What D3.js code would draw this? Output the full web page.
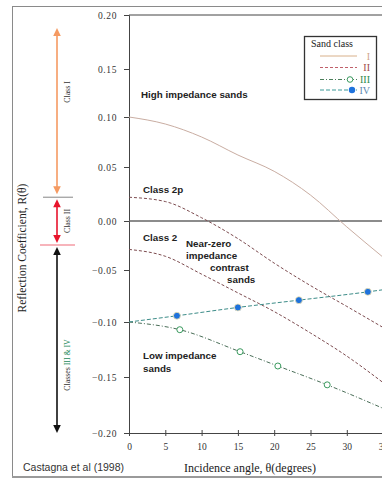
<!DOCTYPE html>
<html>
<head>
<meta charset="utf-8">
<script src="https://cdn.jsdelivr.net/npm/d3@7"></script>
<style>
html,body{margin:0;padding:0;background:#fff;}
svg{display:block;}
</style>
</head>
<body>
<svg id="chart" width="382" height="480"></svg>
<script>
// ---- data ----
const angles = [0, 5, 10, 15, 20, 25, 30, 35];
const classI = [0.100, 0.093, 0.080, 0.062, 0.046, 0.024, -0.006, -0.037];
const class2p = [0.022, 0.018, 0.003, -0.018, -0.043, -0.065, -0.085, -0.105];
const class2 = [-0.029, -0.036, -0.054, -0.072, -0.090, -0.110, -0.131, -0.155];
const classIIIAngles = [0, 7.0, 15.3, 20.5, 27.3, 35];
const classIII = [-0.100, -0.107, -0.127, -0.140, -0.157, -0.178];
const classIIIMarked = [false, true, true, true, true, false];
const classIVAngles = [0, 6.6, 15.0, 23.4, 32.9, 36];
const classIV = [-0.100, -0.094, -0.086, -0.079, -0.071, -0.068];
const classIVMarked = [false, true, true, true, true, false];
const xTicks = [0, 5, 10, 15, 20, 25, 30, 35, 40];
const yTicks = [0.20, 0.15, 0.10, 0.05, 0.00, -0.05, -0.10, -0.15, -0.20];
const legendLabels = ["I", "II", "III", "IV"];
const rangeBounds = [0.188, 0.022, -0.0245, -0.2]; // Class I top, I/II, II/III, bottom

const svg = d3.select("#chart");
const serif = "'Liberation Serif','Times New Roman',serif";
const sans = "'Liberation Sans',Arial,sans-serif";

// outer frame
svg.append("rect").attr("x", 12.5).attr("y", 6.5).attr("width", 400).attr("height", 470)
  .attr("fill", "none").attr("stroke", "#8a8a8a").attr("stroke-width", 1);
svg.append("line").attr("x1", 12).attr("x2", 382).attr("y1", 477).attr("y2", 477)
  .attr("stroke", "#9a9a9a").attr("stroke-width", 2);

const x = d3.scaleLinear().domain([0, 40]).range([129, 129 + 40 * 7.26]);
const y = d3.scaleLinear().domain(yTicks).range([15, 69, 117, 167, 221, 270, 322, 377, 433]);

// axes
const yAxis = d3.axisLeft(y).tickValues(yTicks).tickSize(5).tickFormat(d3.format(".2f"));
const gy = svg.append("g").attr("transform", "translate(129,0)").call(yAxis);
gy.select(".domain").attr("stroke", "#444");
gy.selectAll(".tick line").attr("stroke", "#444");
gy.selectAll(".tick text").attr("font-family", serif).attr("font-size", 9.5).attr("letter-spacing", 0.6)
  .attr("fill", "#333").attr("x", -12);

const xAxis = d3.axisBottom(x).tickValues(xTicks).tickSize(3).tickFormat(d3.format("d"));
const gx = svg.append("g").attr("transform", "translate(0,433)").call(xAxis);
gx.select(".domain").attr("stroke", "#444");
gx.selectAll(".tick line").attr("stroke", "#444").attr("y1", -3).attr("y2", 3);
gx.selectAll(".tick text").attr("font-family", serif).attr("font-size", 9.5).attr("fill", "#333").attr("y", 10);

// top border of plot
svg.append("line").attr("x1", x(0)).attr("x2", 382).attr("y1", y(0.2)).attr("y2", y(0.2))
  .attr("stroke", "#444").attr("stroke-width", 1);
// zero line
svg.append("line").attr("x1", x(0)).attr("x2", 382).attr("y1", y(0)).attr("y2", y(0))
  .attr("stroke", "#666").attr("stroke-width", 1.3);

svg.append("clipPath").attr("id", "plotclip").append("rect")
  .attr("x", x(0)).attr("y", y(0.2)).attr("width", 400).attr("height", y(-0.2) - y(0.2));
const plot = svg.append("g").attr("clip-path", "url(#plotclip)");

const line = d3.line().x(d => x(d[0])).y(d => y(d[1])).curve(d3.curveMonotoneX);
function zip(a, b) { return a.map((v, i) => [v, b[i]]); }

plot.append("path").datum(zip(angles, classI)).attr("d", line)
  .attr("fill", "none").attr("stroke", "#c9ada2").attr("stroke-width", 1);
plot.append("path").datum(zip(angles, class2p)).attr("d", line)
  .attr("fill", "none").attr("stroke", "#7d4c50").attr("stroke-width", 1).attr("stroke-dasharray", "3,2");
plot.append("path").datum(zip(angles, class2)).attr("d", line)
  .attr("fill", "none").attr("stroke", "#7d4c50").attr("stroke-width", 1).attr("stroke-dasharray", "3,2");
plot.append("path").datum(zip(classIIIAngles, classIII)).attr("d", line)
  .attr("fill", "none").attr("stroke", "#4a6e58").attr("stroke-width", 1).attr("stroke-dasharray", "4,2,1,2");
plot.append("path").datum(zip(classIVAngles, classIV)).attr("d", line)
  .attr("fill", "none").attr("stroke", "#3c8c88").attr("stroke-width", 1).attr("stroke-dasharray", "4,2");

plot.selectAll("circle.iii").data(zip(classIIIAngles, classIII).filter((d, i) => classIIIMarked[i]))
  .enter().append("circle").attr("class", "iii")
  .attr("cx", d => x(d[0])).attr("cy", d => y(d[1])).attr("r", 3)
  .attr("fill", "#fff").attr("stroke", "#3a9a5e").attr("stroke-width", 1);
plot.selectAll("circle.iv").data(zip(classIVAngles, classIV).filter((d, i) => classIVMarked[i]))
  .enter().append("circle").attr("class", "iv")
  .attr("cx", d => x(d[0])).attr("cy", d => y(d[1])).attr("r", 3.5)
  .attr("fill", "#1e72dc").attr("stroke", "#fbe9b0").attr("stroke-width", 0.8);

// annotations in plot
const notes = [
  ["High impedance sands", 141, 98],
  ["Class 2p", 143, 193],
  ["Class 2", 143, 241],
  ["Near-zero", 186, 247],
  ["impedance", 186, 259],
  ["contrast", 210, 271],
  ["sands", 227, 283],
  ["Low impedance", 143, 359],
  ["sands", 143, 372]
];
svg.selectAll("text.note").data(notes).enter().append("text").attr("class", "note")
  .attr("x", d => d[1]).attr("y", d => d[2]).text(d => d[0])
  .attr("font-family", sans).attr("font-weight", "bold").attr("font-size", 9.8).attr("fill", "#222");

// legend
const lg = svg.append("g");
lg.append("rect").attr("x", 304.5).attr("y", 36.5).attr("width", 72).attr("height", 63)
  .attr("fill", "#fff").attr("stroke", "#333").attr("stroke-width", 1.3);
lg.append("text").attr("x", 311).attr("y", 47).text("Sand class")
  .attr("font-family", serif).attr("font-size", 10).attr("fill", "#222");
const legRows = [56, 67.5, 79.5, 90];
const legStroke = ["#d8b08a", "#c0606a", "#4a7e5a", "#3c9a98"];
const legDash = [null, "3,2", "4,2,1,2", "4,2"];
const legText = ["#d0a48a", "#a04848", "#2a8a4a", "#5a88b0"];
legendLabels.forEach((lab, i) => {
  lg.append("line").attr("x1", 320).attr("x2", 357).attr("y1", legRows[i]).attr("y2", legRows[i])
    .attr("stroke", legStroke[i]).attr("stroke-width", 1).attr("stroke-dasharray", legDash[i]);
  lg.append("text").attr("x", 370).attr("y", legRows[i] + 3.5).attr("text-anchor", "end").text(lab)
    .attr("font-family", serif).attr("font-size", 10).attr("fill", legText[i]);
});
lg.append("circle").attr("cx", 350).attr("cy", legRows[2]).attr("r", 2.8)
  .attr("fill", "#fff").attr("stroke", "#3a9a5e");
lg.append("circle").attr("cx", 352).attr("cy", legRows[3]).attr("r", 3.2).attr("fill", "#1e72dc");

// left class range arrows
const ax = 57;
function arrow(yTop, yBot, color) {
  svg.append("line").attr("x1", ax).attr("x2", ax).attr("y1", yTop + 5).attr("y2", yBot - 5)
    .attr("stroke", color).attr("stroke-width", 1.6);
  svg.append("path").attr("d", `M${ax},${yTop} L${ax - 3.8},${yTop + 8} L${ax + 3.8},${yTop + 8} Z`).attr("fill", color);
  svg.append("path").attr("d", `M${ax},${yBot} L${ax - 3.8},${yBot - 8} L${ax + 3.8},${yBot - 8} Z`).attr("fill", color);
}
arrow(y(rangeBounds[0]), y(rangeBounds[1]) - 3, "#f59a62");
arrow(y(rangeBounds[1]) + 2, y(rangeBounds[2]) - 2, "#e8142c");
arrow(y(rangeBounds[2]) + 2, y(rangeBounds[3]), "#111");
svg.append("line").attr("x1", 43).attr("x2", 73).attr("y1", y(rangeBounds[1])).attr("y2", y(rangeBounds[1]))
  .attr("stroke", "#9a9a9a").attr("stroke-width", 1.2);
svg.append("line").attr("x1", 40).attr("x2", 75).attr("y1", y(rangeBounds[2])).attr("y2", y(rangeBounds[2]))
  .attr("stroke", "#f06a78").attr("stroke-width", 1.2);

function vlabel(cx, cy, parts) {
  const t = svg.append("text").attr("transform", `translate(${cx},${cy}) rotate(-90)`)
    .attr("text-anchor", "middle").attr("font-family", serif).attr("font-size", 7.8);
  parts.forEach(p => t.append("tspan").text(p[0]).attr("fill", p[1]));
}
vlabel(70, 92, [["Class I", "#333"]]);
vlabel(70, 221, [["Class II", "#333"]]);
vlabel(70, 365, [["Classes ", "#333"], ["III & IV", "#1d8a5a"]]);

// axis titles
svg.append("text").attr("transform", "translate(26,248) rotate(-90)").attr("text-anchor", "middle")
  .attr("font-family", serif).attr("font-size", 11.5).attr("fill", "#222").text("Reflection Coefficient, R(θ)");
svg.append("text").attr("x", 250).attr("y", 472).attr("text-anchor", "middle")
  .attr("font-family", serif).attr("font-size", 12).attr("fill", "#222").text("Incidence angle, θ(degrees)");
svg.append("text").attr("x", 23).attr("y", 471)
  .attr("font-family", sans).attr("font-size", 10.5).attr("fill", "#333").text("Castagna et al (1998)");
</script>
</body>
</html>
